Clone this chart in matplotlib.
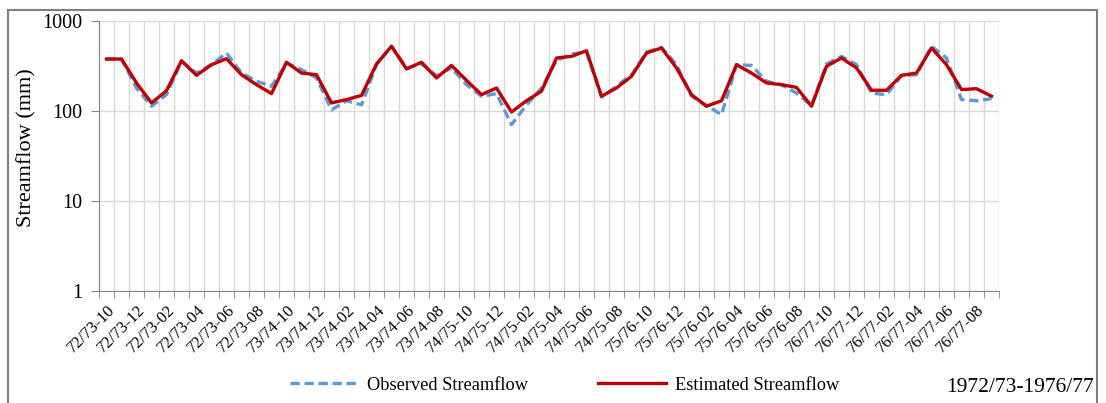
#Monthly streamflow, observed vs estimated, on a log axis
import numpy as np
import matplotlib.pyplot as plt
from matplotlib.patches import Rectangle

plt.rcParams['font.family'] = ['Liberation Serif', 'DejaVu Serif']

#water years and months (Oct -> Sep) making up the categories
water_years = ['72/73', '73/74', '74/75', '75/76', '76/77']
months = ['10', '11', '12', '01', '02', '03', '04', '05', '06', '07', '08', '09']
categories = [y + '-' + m for y in water_years for m in months]

#monthly streamflow in mm
observed = [378, 378, 180, 113, 152, 355, 264, 327, 441, 264,
            214, 188, 340, 288, 233, 103, 130, 117, 327, 524,
            301, 333, 247, 301, 196, 146, 156, 70.5, 117, 180,
            363, 430, 450, 143, 188, 253, 450, 510, 327, 146,
            115, 91, 327, 321, 214, 196, 158, 115, 333, 404,
            327, 158, 152, 247, 253, 524, 388, 134, 130, 137]
estimated = [378, 378, 205, 123, 168, 362, 249, 327, 381, 253,
             196, 156, 348, 264, 253, 123, 134, 149, 333, 524,
             293, 348, 233, 321, 219, 152, 180, 97.5, 130, 166,
             388, 404, 468, 146, 180, 243, 441, 501, 301, 152,
             113, 130, 327, 264, 205, 196, 183, 113, 314, 388,
             301, 170, 170, 249, 264, 501, 327, 173, 177, 146]

fig = plt.figure(figsize=(11.06, 4.03), dpi=100)
ax = fig.add_axes([99/1106, 112/403, 900/1106, 270/403])

x = np.arange(len(categories))
ax.plot(x, observed, color='#5B9BD5', lw=2.4, ls=(0, (2.8, 1.4)),
        label='Observed Streamflow', zorder=3)
ax.plot(x, estimated, color='#C00000', lw=2.4,
        label='Estimated Streamflow', zorder=4)

ax.set_yscale('log')
ax.set_ylim(1, 1000)
ax.set_xlim(-0.5, len(categories) - 0.5)

ax.set_yticks([1, 10, 100, 1000])
ax.set_yticklabels(['1', '10', '100', '1000'], fontsize=14.5)
ax.yaxis.set_minor_locator(plt.NullLocator())
ax.tick_params(axis='y', which='major', length=6, color='#868686', pad=6)

#labels on every other month, tick marks on every category boundary
ax.set_xticks(x[::2])
ax.set_xticklabels(categories[::2], rotation=45, ha='right',
                   rotation_mode='anchor', fontsize=12)
ax.set_xticks(np.arange(-0.5, len(categories)), minor=True)
ax.tick_params(axis='x', which='major', length=0, pad=8)
ax.tick_params(axis='x', which='minor', length=5, color='#868686')

ax.grid(axis='x', which='minor', color='#D9D9D9', lw=1)
ax.grid(axis='y', which='major', color='#D9D9D9', lw=1)
ax.set_axisbelow(True)

for side in ['top', 'right']:
    ax.spines[side].set_visible(False)
for side in ['left', 'bottom']:
    ax.spines[side].set_color('#868686')

fig.text(27/1106, 1 - 148/403, 'Streamflow (mm)', rotation=90,
         ha='center', va='center', fontsize=16)

fig.legend(loc='center left', bbox_to_anchor=(290/1106, 18/403), ncol=2,
           frameon=False, fontsize=13.2, handlelength=3.7,
           handletextpad=0.5, columnspacing=3.8, borderpad=0,
           borderaxespad=0)

fig.text(1094/1106, 15/403, '1972/73-1976/77', ha='right', va='center',
         fontsize=15.5)

#border round the whole chart
fig.patches.append(Rectangle((8/1106, -0.05), 1089/1106, 1.05 - 10/403,
                             transform=fig.transFigure, fill=False,
                             edgecolor='#7F7F7F', lw=1.5))

fig.savefig('out.png', dpi=100)
